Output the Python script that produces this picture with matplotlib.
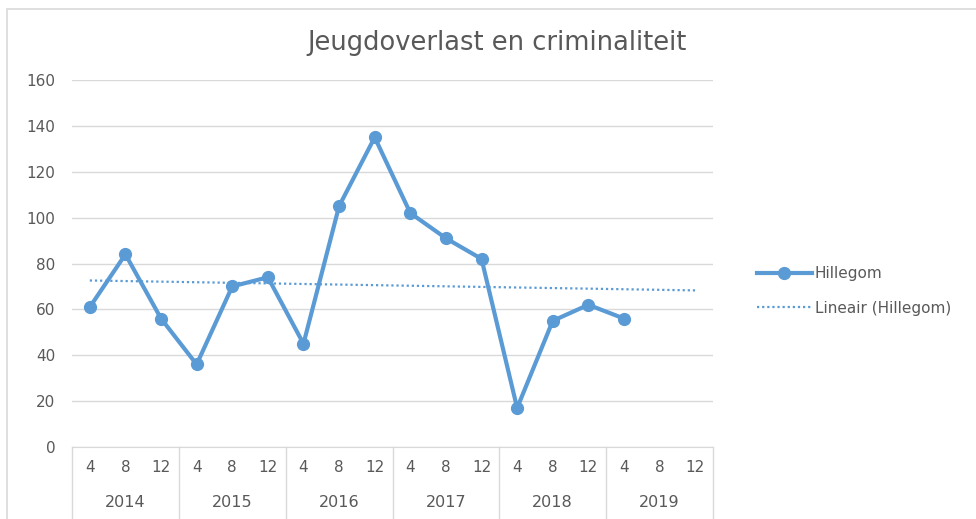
import numpy as np
import matplotlib.pyplot as plt
from matplotlib.patches import Rectangle
from matplotlib.transforms import blended_transform_factory

# data
years = ['2014', '2015', '2016', '2017', '2018', '2019']
months = ['4', '8', '12']
hillegom = [61, 84, 56, 36, 70, 74, 45, 105, 135, 102, 91, 82, 17, 55, 62, 56]

blue = '#5b9bd5'
grey_txt = '#595959'
grid_col = '#d9d9d9'

plt.rcParams['font.family'] = ['DejaVu Sans']

n_cat = len(years) * len(months)
x_all = np.arange(1, n_cat + 1)
x_dat = x_all[:len(hillegom)]

# linear trendline (Excel style) over the full category range
slope, icpt = np.polyfit(x_dat, hillegom, 1)
trend = slope * x_all + icpt

fig = plt.figure(figsize=(9.76, 5.19), dpi=100)
ax = fig.add_axes([72/976, 1-447/519, 641/976, 367/519])

ax.plot(x_all, trend, color=blue, lw=1.6, ls=(0, (1, 1.3)), label='Lineair (Hillegom)', zorder=2)
ax.plot(x_dat, hillegom, color=blue, lw=3, marker='o', ms=8.5,
        label='Hillegom', zorder=3, solid_joinstyle='round')

ax.set_xlim(0.5, n_cat + 0.5)
ax.set_ylim(0, 160)
ax.set_yticks(range(0, 161, 20))
ax.yaxis.grid(True, color=grid_col, lw=1)
ax.set_axisbelow(True)
ax.set_xticks([])
ax.tick_params(axis='y', length=0, pad=12, labelsize=11, labelcolor=grey_txt)
for s in ['left', 'right', 'top']:
    ax.spines[s].set_visible(False)
ax.spines['bottom'].set_color(grid_col)

# two level category axis
tr = blended_transform_factory(ax.transData, ax.transAxes)
bottom = -(519 - 447) / 367 - 0.01
for i, y in enumerate(years):
    for j, m in enumerate(months):
        ax.text(i*3 + j + 1, -0.057, m, transform=tr, ha='center', va='center',
                fontsize=11, color=grey_txt)
    ax.text(i*3 + 2, -0.15, y, transform=tr, ha='center', va='center',
            fontsize=11.5, color=grey_txt)
for b in range(len(years) + 1):
    ax.plot([b*3 + 0.5, b*3 + 0.5], [0, bottom], transform=tr, color=grid_col,
            lw=1, clip_on=False)

fig.text(497/976, 1-43/519, 'Jeugdoverlast en criminaliteit', ha='center', va='center',
         fontsize=18.5, color=grey_txt)

h, l = ax.get_legend_handles_labels()
fig.legend([h[1], h[0]], [l[1], l[0]], loc='center left', bbox_to_anchor=(743/976, 1-291/519),
           frameon=False, fontsize=11, labelcolor=grey_txt, handlelength=3.6,
           handletextpad=0.2, labelspacing=1.25)

# chart frame
fig.patches.append(Rectangle((7/976, -0.05), 1.1, 1-9/519+0.05, transform=fig.transFigure,
                             fill=False, edgecolor=grid_col, lw=1.2))

fig.savefig('out.png', dpi=100)
